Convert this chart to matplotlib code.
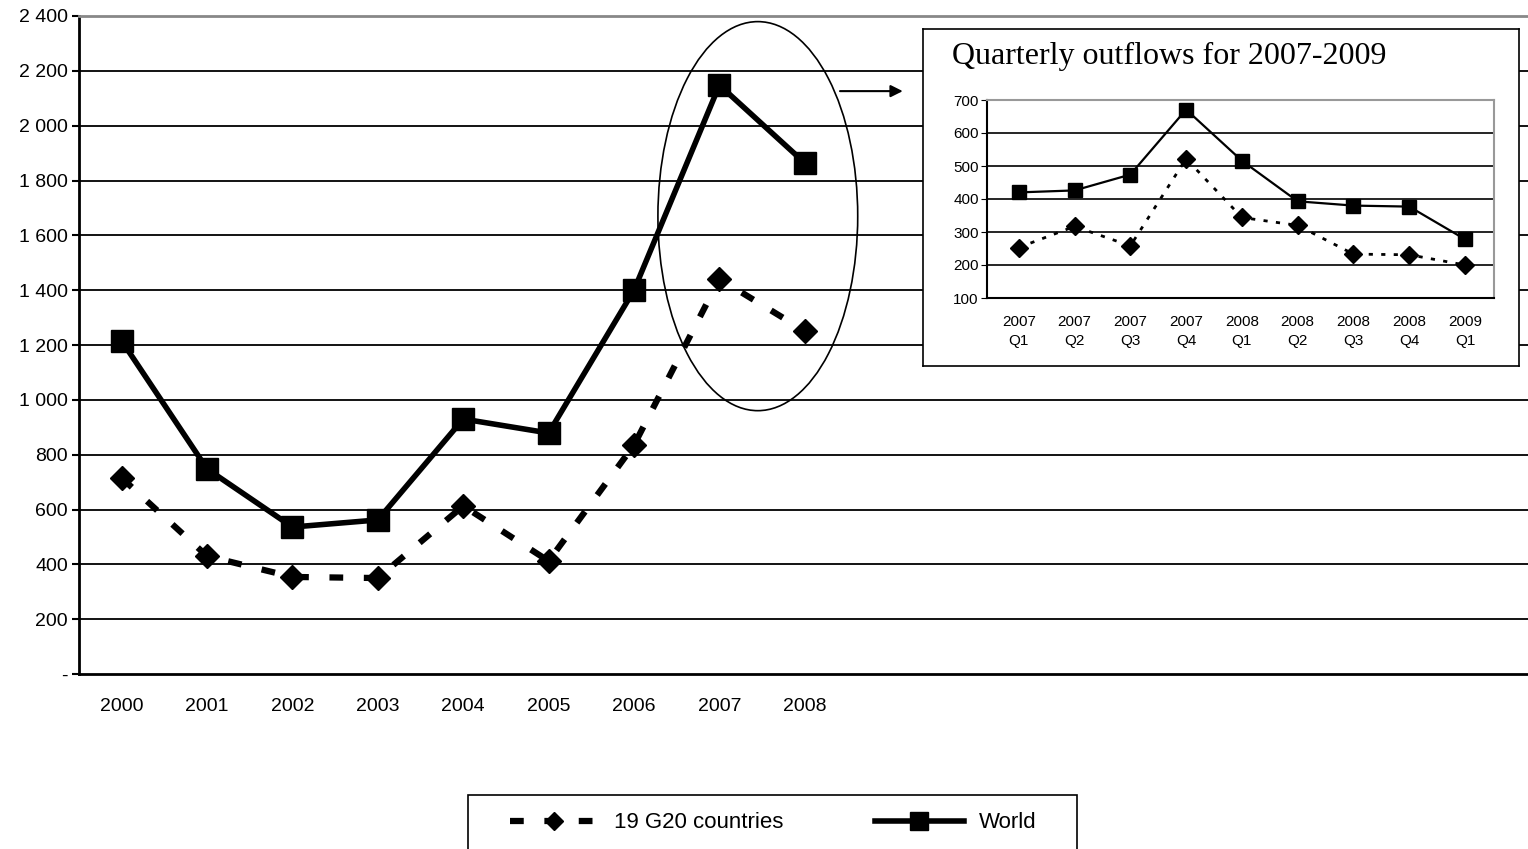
import numpy as np
import matplotlib.pyplot as plt
from matplotlib.patches import Ellipse, Rectangle

plt.rcParams['font.family'] = ['Liberation Sans', 'DejaVu Sans']

# annual outflows (main chart)
years = ['2000', '2001', '2002', '2003', '2004', '2005', '2006', '2007', '2008']
world = [1215, 748, 536, 562, 930, 879, 1400, 2148, 1864]
g20 = [715, 430, 354, 350, 613, 412, 835, 1441, 1251]

# quarterly outflows (inset)
quarters = ['2007\nQ1', '2007\nQ2', '2007\nQ3', '2007\nQ4', '2008\nQ1',
            '2008\nQ2', '2008\nQ3', '2008\nQ4', '2009\nQ1']
world_q = [420, 426, 474, 671, 516, 393, 380, 377, 278]
g20_q = [253, 317, 258, 522, 344, 320, 233, 231, 200]

W, H = 1528, 849
fig = plt.figure(figsize=(W / 100, H / 100), dpi=100)

def px_box(x0, y0, x1, y1):
    # pixel box (top-left origin) -> figure fraction rect
    return [x0 / W, 1 - y1 / H, (x1 - x0) / W, (y1 - y0) / H]

# ---- main chart
ax = fig.add_axes(px_box(79, 16, 1528, 674))
x = np.arange(len(years))
ax.plot(x, g20, color='black', lw=4.5, linestyle=(0, (2.2, 3.3)),
        marker='D', markersize=12, label='19 G20 countries', zorder=3)
ax.plot(x, world, color='black', lw=4, marker='s', markersize=16,
        label='World', zorder=4)

ax.set_xlim(-0.5, 16.47)
ax.set_ylim(0, 2400)
yt = np.arange(0, 2401, 200)
ax.set_yticks(yt)
ax.set_yticklabels(['-' if v == 0 else f'{v:,}'.replace(',', ' ') for v in yt])
ax.set_xticks(x)
ax.set_xticklabels(years)
ax.tick_params(axis='x', length=0, pad=17, labelsize=14)
ax.tick_params(axis='y', length=5, width=1.5, pad=3, labelsize=14)
for v in yt[1:-1]:
    ax.axhline(v, color='black', lw=1.3, zorder=1)
ax.spines['right'].set_visible(False)
ax.spines['top'].set_color('#888888')
ax.spines['top'].set_linewidth(2)
ax.spines['left'].set_linewidth(2)
ax.spines['bottom'].set_linewidth(2)

# ellipse around 2007-2008 and arrow to inset
ax.add_patch(Ellipse((7.45, 1670), 2.34, 1419, fill=False, color='black', lw=1.2, zorder=5))
ax.annotate('', xy=(9.18, 2126), xytext=(8.38, 2126),
            arrowprops=dict(arrowstyle='-|>', color='black', lw=1.5, mutation_scale=18))

# ---- inset box
box = fig.add_axes(px_box(923, 29, 1519, 366))
box.set_facecolor('white')
box.set_xticks([])
box.set_yticks([])
for s in box.spines.values():
    s.set_linewidth(1.2)
box.text(29 / 596, 1 - 27 / 337, 'Quarterly outflows for 2007-2009', transform=box.transAxes,
         family=['Liberation Serif'], fontsize=23, va='center', ha='left')

ins = fig.add_axes(px_box(987, 100, 1494, 298))
xq = np.arange(len(quarters))
ins.plot(xq, g20_q, color='black', lw=2, linestyle=(0, (1.5, 3)),
         marker='D', markersize=9, zorder=3)
ins.plot(xq, world_q, color='black', lw=1.6, marker='s', markersize=10, zorder=4)
ins.set_xlim(-0.57, 8.52)
ins.set_ylim(100, 700)
ins.set_yticks(np.arange(100, 701, 100))
ins.set_xticks(xq)
ins.set_xticklabels(quarters, linespacing=1.5)
ins.tick_params(axis='x', length=0, pad=12, labelsize=11)
ins.tick_params(axis='y', length=4, pad=2, labelsize=11)
for v in range(200, 700, 100):
    ins.axhline(v, color='black', lw=1.2, zorder=1)
ins.spines['top'].set_color('#999999')
ins.spines['right'].set_color('#999999')
ins.spines['top'].set_linewidth(1.5)
ins.spines['right'].set_linewidth(1.5)
ins.spines['left'].set_linewidth(1.5)
ins.spines['bottom'].set_linewidth(1.5)

# ---- legend (frame drawn separately, runs off the bottom edge)
fig.patches.append(Rectangle((468 / W, -0.05), (1077 - 468) / W, 1 - 795 / H + 0.05,
                             transform=fig.transFigure, fill=False, ec='black', lw=1.2))
fig.legend(loc='center left', bbox_to_anchor=(510 / W, 1 - 823 / H), ncol=2,
           frameon=False, fontsize=16, handlelength=4, handletextpad=0.7,
           columnspacing=4.1, borderpad=0, borderaxespad=0, markerscale=0.8)

fig.savefig('out.png', dpi=100)
